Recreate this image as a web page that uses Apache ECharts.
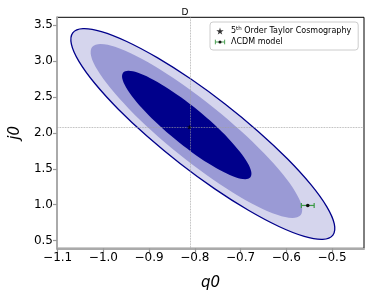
<!DOCTYPE html>
<html><head><meta charset="utf-8">
<script src="https://cdn.jsdelivr.net/npm/echarts@6/dist/echarts.min.js"></script>
<style>html,body{margin:0;padding:0;background:#fff}#c{width:370px;height:298px}</style>
</head><body><div id="c"></div>
<script>
// Contour vertices (q0, j0)
const outerContour = [[-0.498,0.578],[-0.5204,0.5187],[-0.5607,0.5594],[-0.6161,0.6971],[-0.6828,0.9225],[-0.7564,1.2204],[-0.8317,1.5702],[-0.9036,1.9482],[-0.9674,2.3287],[-1.0185,2.6857],[-1.0535,2.9948],[-1.07,3.2351],[-1.067,3.3901],[-1.0446,3.4493],[-1.0043,3.4086],[-0.9489,3.2709],[-0.8822,3.0455],[-0.8086,2.7476],[-0.7333,2.3978],[-0.6614,2.0198],[-0.5976,1.6393],[-0.5465,1.2823],[-0.5115,0.9732],[-0.495,0.7329]];
const middleContour = [[-0.5683,0.8569],[-0.5862,0.815],[-0.6184,0.8556],[-0.6627,0.976],[-0.7162,1.1679],[-0.7751,1.4183],[-0.8355,1.71],[-0.8933,2.0233],[-0.9444,2.3367],[-0.9855,2.629],[-1.0136,2.88],[-1.027,3.073],[-1.0247,3.1945],[-1.0068,3.2364],[-0.9746,3.1958],[-0.9303,3.0754],[-0.8768,2.8835],[-0.8179,2.6331],[-0.7575,2.3414],[-0.6997,2.0281],[-0.6486,1.7147],[-0.6075,1.4224],[-0.5794,1.1714],[-0.566,0.9784]];
const innerContour = [[-0.6784,1.3828],[-0.6896,1.3558],[-0.7097,1.3801],[-0.737,1.4542],[-0.7698,1.5728],[-0.8059,1.728],[-0.8428,1.9092],[-0.8781,2.104],[-0.9092,2.2992],[-0.934,2.4814],[-0.9509,2.6383],[-0.9588,2.759],[-0.957,2.8356],[-0.9458,2.8626],[-0.9257,2.8383],[-0.8984,2.7642],[-0.8656,2.6456],[-0.8295,2.4904],[-0.7926,2.3092],[-0.7573,2.1144],[-0.7262,1.9192],[-0.7014,1.737],[-0.6845,1.5801],[-0.6766,1.4594]];
const taylorPoint = [[-0.812, 2.08]];
const lcdmPoint = [[-0.553, 0.99, 0.014]]; // q0, j0, q0 error
const refLineQ = -0.812;
const refLineJ = 2.08;
const xTicks = [-1.1,-1.0,-0.9,-0.8,-0.7,-0.6,-0.5];
const yTicks = [0.5,1.0,1.5,2.0,2.5,3.0,3.5];
const legendNames = ['5th Order Taylor Cosmography','ΛCDM model'];

const FONT = 'DejaVu Sans';
const fmt = v => (v < 0 ? '\u2212' : '') + Math.abs(v).toFixed(1);
const starPath = 'path://M50,0 L61,35 L98,35 L68,57 L79,91 L50,70 L21,91 L32,57 L2,35 L39,35 Z';
const ebSvg = '<svg xmlns="http://www.w3.org/2000/svg" width="20" height="12" viewBox="0 0 20 12"><line x1="2" y1="6" x2="18" y2="6" stroke="#3c9a46" stroke-width="1.6"/><line x1="2" y1="2" x2="2" y2="10" stroke="#3c9a46" stroke-width="1.6"/><line x1="18" y1="2" x2="18" y2="10" stroke="#3c9a46" stroke-width="1.6"/><circle cx="10" cy="6" r="2.6" fill="#111"/></svg>';
const ebIcon = 'image://data:image/svg+xml;charset=utf-8,' + encodeURIComponent(ebSvg);

function contourSeries(name, pts, fill, stroke, z) {
  return {
    type: 'custom', name: name, z: z, silent: true,
    data: pts, encode: {x: 0, y: 1},
    renderItem: function (params, api) {
      if (params.dataIndex !== 0) return null;
      const points = pts.map(p => api.coord(p));
      return {
        type: 'polygon',
        shape: {points: points, smooth: 0.35},
        style: {fill: fill, stroke: stroke || null, lineWidth: stroke ? 1.3 : 0}
      };
    }
  };
}

const chart = echarts.init(document.getElementById('c'), null, {renderer: 'canvas'});
chart.setOption({
  animation: false,
  backgroundColor: '#fff',
  title: {text: 'D', left: 'center', top: 3, textStyle: {fontFamily: FONT, fontSize: 9, fontWeight: 'normal', color: '#000'}},
  grid: {left: 54, right: 6, top: 17.3, bottom: 49.7, show: true, borderColor: '#000', borderWidth: 1, backgroundColor: 'transparent'},
  legend: {
    left: 210, top: 22, orient: 'vertical', itemGap: 3, itemWidth: 12, itemHeight: 7,
    padding: [4, 7, 4, 4], borderColor: '#cccccc', borderWidth: 1, borderRadius: 3, backgroundColor: '#fff',
    data: [{name: legendNames[0], icon: starPath, itemStyle: {color: '#000'}}, {name: legendNames[1], icon: ebIcon}],
    formatter: function (n) { return n === legendNames[0] ? '5{sup|th} Order Taylor Cosmography' : n; },
    textStyle: {fontFamily: FONT, fontSize: 8, color: '#000', rich: {sup: {fontFamily: FONT, fontSize: 5.5, verticalAlign: 'top', padding: [0, 0, 4, 0]}}}
  },
  xAxis: {
    type: 'value', min: -1.1015, max: -0.43,
    name: 'q0', nameLocation: 'middle', nameGap: 27,
    nameTextStyle: {fontFamily: FONT, fontSize: 15, fontStyle: 'italic', color: '#000'},
    axisLine: {show: true, lineStyle: {color: '#aaaaaa', width: 2}},
    axisTick: {show: true, length: 4, lineStyle: {color: '#999', width: 1.2}, customValues: xTicks},
    axisLabel: {fontFamily: FONT, fontSize: 12, color: '#000', margin: 4, formatter: fmt, customValues: xTicks},
    splitLine: {show: false}
  },
  yAxis: {
    type: 'value', min: 0.394, max: 3.607,
    name: 'j0', nameLocation: 'middle', nameGap: 33, nameRotate: 90,
    nameTextStyle: {fontFamily: FONT, fontSize: 15, fontStyle: 'italic', color: '#000'},
    axisLine: {show: true, lineStyle: {color: '#aaaaaa', width: 2}},
    axisTick: {show: true, length: 4, lineStyle: {color: '#999', width: 1.2}, customValues: yTicks},
    axisLabel: {fontFamily: FONT, fontSize: 12, color: '#000', margin: 4, formatter: fmt, customValues: yTicks},
    splitLine: {show: false}
  },
  series: [
    contourSeries('outer', outerContour, '#d5d5ed', '#00008b', 1),
    contourSeries('middle', middleContour, '#9a9ad5', null, 2),
    contourSeries('inner', innerContour, '#00008b', null, 3),
    {
      type: 'scatter', name: legendNames[0], z: 6, data: taylorPoint,
      symbol: starPath, symbolSize: 5, itemStyle: {color: '#000'},
      markLine: {
        silent: true, symbol: 'none', label: {show: false}, animation: false,
        lineStyle: {color: '#a0a0a0', type: 'dotted', width: 0.8},
        data: [{xAxis: refLineQ}, {yAxis: refLineJ}]
      }
    },
    {
      type: 'custom', name: legendNames[1], z: 7, data: lcdmPoint,
      encode: {x: 0, y: 1},
      itemStyle: {color: '#3c9a46'},
      renderItem: function (params, api) {
        const q = api.value(0), j = api.value(1), e = api.value(2);
        const a = api.coord([q - e, j]), b = api.coord([q + e, j]), c = api.coord([q, j]);
        const st = {stroke: '#3c9a46', lineWidth: 1.2};
        return {type: 'group', children: [
          {type: 'line', shape: {x1: a[0], y1: a[1], x2: b[0], y2: b[1]}, style: st},
          {type: 'line', shape: {x1: a[0], y1: a[1] - 2.5, x2: a[0], y2: a[1] + 2.5}, style: st},
          {type: 'line', shape: {x1: b[0], y1: b[1] - 2.5, x2: b[0], y2: b[1] + 2.5}, style: st},
          {type: 'circle', shape: {cx: c[0], cy: c[1], r: 1.8}, style: {fill: '#111'}}
        ]};
      }
    }
  ]
});
</script></body></html>
